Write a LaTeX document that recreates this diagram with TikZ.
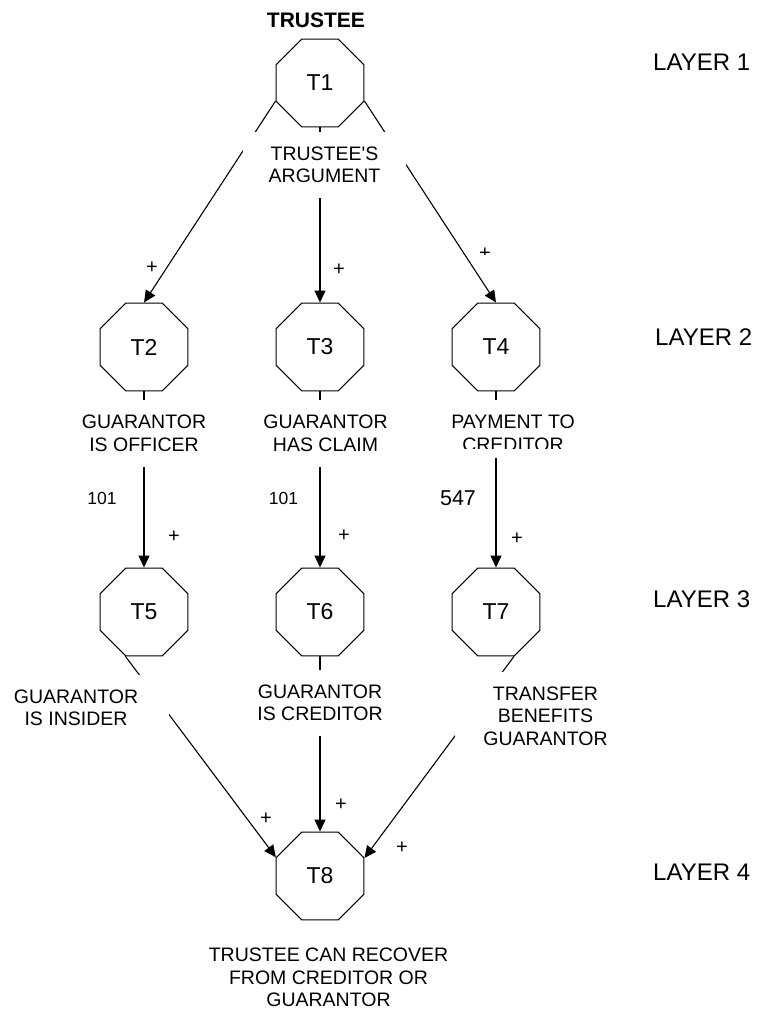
\documentclass[tikz,border=0pt]{standalone}
\usepackage{fontspec}
\setmainfont{Liberation Sans}[Ligatures=TeXOff]
\usetikzlibrary{shapes.geometric,arrows.meta}
\begin{document}
\begin{tikzpicture}[x=1pt,y=-1pt,
  oct/.style={draw, line width=1.1pt, regular polygon, regular polygon sides=8,
    minimum size=95pt, inner sep=0pt, font=\fontsize{23}{27}\selectfont},
  lbl/.style={fill=white, align=center, inner xsep=26pt, inner ysep=15pt,
    font=\fontsize{19.5}{22.5}\selectfont},
  sgn/.style={inner sep=0pt, font=\fontsize{20}{22}\selectfont},
  num/.style={inner sep=0pt, font=\fontsize{17.5}{20}\selectfont},
  lay/.style={inner sep=0pt, anchor=west, font=\fontsize{24}{28}\selectfont},
  conn/.style={line width=1.1pt, -{Triangle[length=12pt,width=11pt]}}
]
\useasboundingbox (0,0) rectangle (759,1009);

% title and layer labels
\node[inner sep=0pt, font=\fontsize{21}{24}\selectfont\bfseries] (title) at (316,20) {TRUSTEE};
\node[lay] (lay1) at (653,62) {LAYER 1};
\node[lay] (lay2) at (655,337) {LAYER 2};
\node[lay] (lay3) at (653,599) {LAYER 3};
\node[lay] (lay4) at (653,872) {LAYER 4};

% octagons
\node[oct] (T1) at (320,83) {T1};
\node[oct] (T2) at (144,347) {T2};
\node[oct] (T3) at (320,347) {T3};
\node[oct] (T4) at (496,347) {T4};
\node[oct] (T5) at (144,612) {T5};
\node[oct] (T6) at (320,612) {T6};
\node[oct] (T7) at (496,612) {T7};
\node[oct] (T8) at (320,876) {T8};

% connectors
\draw[conn] (T1.202.5) -- (T2.north);
\draw[conn] (T1.south) -- (T3.north);
\draw[conn] (T1.-22.5) -- (T4.north);
\draw[conn] (T2.south) -- (T5.north);
\draw[conn] (T3.south) -- (T6.north);
\draw[conn] (T4.south) -- (T7.north);
\draw[conn] (T5.247.5) -- (T8.157.5);
\draw[conn] (T6.south) -- (T8.north);
\draw[conn] (T7.292.5) -- (T8.22.5);

% labels (white boxes hide the connectors behind them)
\node[lbl, inner xsep=25.5pt] (L1) at (324.5,165) {TRUSTEE'S\\ARGUMENT};
\node[lbl] (L2) at (144,433.5) {GUARANTOR\\IS OFFICER};
\node[lbl] (L3) at (325.5,433.5) {GUARANTOR\\HAS CLAIM};
\fill[white] (424,400) rectangle (602,458);
\node[lbl, fill=none] (L4) at (513,433.5) {PAYMENT TO\\CREDITOR};
\fill[white] (424,448.5) rectangle (602,458);
\node[lbl, inner xsep=30.5pt] (L5) at (76,708) {GUARANTOR\\IS INSIDER};
\node[lbl] (L6) at (320,703) {GUARANTOR\\IS CREDITOR};
\node[lbl, inner xsep=28pt] (L7) at (545.5,716) {TRANSFER\\BENEFITS\\GUARANTOR};
\node[lbl, fill=none] (L8) at (328.5,977.5) {TRUSTEE CAN RECOVER\\FROM CREDITOR OR\\GUARANTOR};

% section numbers
\node[num] (n1) at (102,498) {101};
\node[num] (n2) at (283.5,498) {101};
\node[num, font=\fontsize{21.5}{24}\selectfont] (n3) at (458,498.5) {547};

% signs
\node[sgn] (p2) at (152,268) {+};
\node[sgn] (p3) at (339,270) {+};
\node[sgn] (p4) at (485,254) {+};
\fill[white] (476,255) rectangle (495,263);
\node[sgn] (p5) at (174,537) {+};
\node[sgn] (p6) at (344,536) {+};
\node[sgn] (p7) at (517,539) {+};
\node[sgn] (p85) at (266,819) {+};
\node[sgn] (p86) at (341,805) {+};
\node[sgn] (p87) at (402,848) {+};
\end{tikzpicture}
\end{document}
